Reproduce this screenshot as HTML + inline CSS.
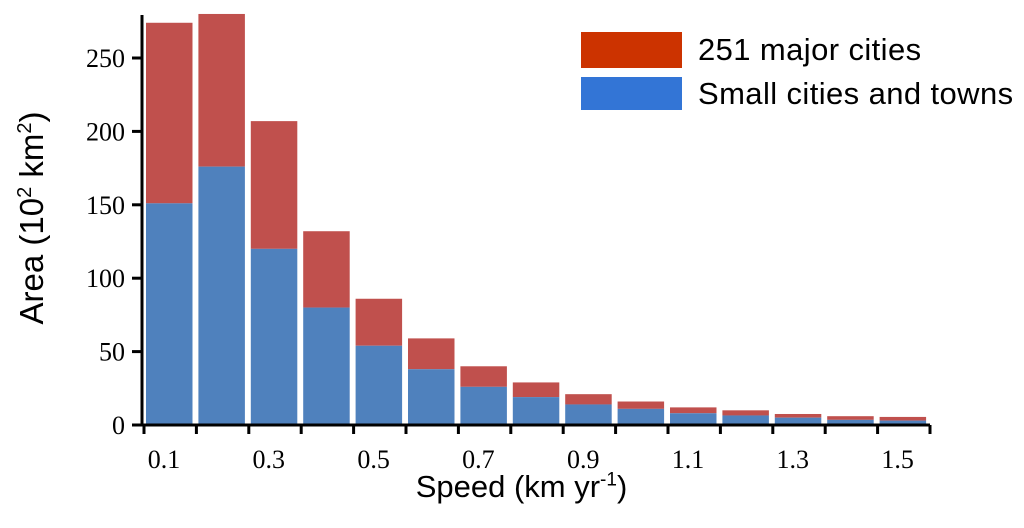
<!DOCTYPE html>
<html><head><meta charset="utf-8"><style>
body{margin:0;background:#fff;}
svg text{font-family:"Liberation Serif",serif;}
</style></head><body>
<svg id="c" width="1024" height="523">
</svg>
<script>
const categories=["0.1","0.2","0.3","0.4","0.5","0.6","0.7","0.8","0.9","1.0","1.1","1.2","1.3","1.4","1.5"];
const smallValues=[151,176,120,80,54,38,26,19,14,11,8,6.5,5,3.5,3];
const totalValues=[274,280,207,132,86,59,40,29,21,16,12,10,7.5,6,5.5];
const yTicks=[0,50,100,150,200,250];
const xLabels=["0.1","0.3","0.5","0.7","0.9","1.1","1.3","1.5"];
const NS="http://www.w3.org/2000/svg";
const svg=document.getElementById('c');
const x0=145,step=52.4,bw=46.5;
const y=v=>425-v*1.468;
const xb=i=>x0+i*step;
function mk(t,a,p){const e=document.createElementNS(NS,t);for(const k in a)e.setAttribute(k,a[k]);(p||svg).appendChild(e);return e;}
categories.forEach((c,i)=>{
 const r=mk('rect',{x:xb(i)+1,y:y(totalValues[i]),width:bw,height:y(smallValues[i])-y(totalValues[i]),fill:'#c0504d'});
 
 
 const b=mk('rect',{x:xb(i)+1,y:y(smallValues[i]),width:bw,height:425-y(smallValues[i]),fill:'#4f81bd'});
 
 
});
const ya=mk('line',{x1:142,y1:15,x2:142,y2:426,stroke:'#000','stroke-width':3});


yTicks.forEach(v=>{
 mk('line',{x1:132,y1:y(v),x2:142,y2:y(v),stroke:'#000','stroke-width':3});
 const t=mk('text',{x:125,y:y(v)+9,'text-anchor':'end','font-size':26});
 t.textContent=v;
 
 
});
const xa=mk('line',{x1:141,y1:425,x2:930,y2:425,stroke:'#000','stroke-width':3});


for(let i=0;i<=categories.length;i++){mk('line',{x1:xb(i)-1,y1:425,x2:xb(i)-1,y2:434,stroke:'#000','stroke-width':3});}
xLabels.forEach((l,k)=>{
 const t=mk('text',{x:xb(2*k)+19,y:468,'text-anchor':'middle','font-size':26});
 t.textContent=l;
 
 
});
</script>
<div style="position:absolute;left:0;top:469px;width:1024px;padding-left:19px;box-sizing:border-box;text-align:center;font:31px 'Liberation Sans',sans-serif;color:#000;">Speed (km yr<sup style="font-size:19px">-1</sup>)</div>
<div style="position:absolute;left:32px;top:218px;transform:translate(-50%,-50%) rotate(-90deg);white-space:nowrap;font:33px 'Liberation Sans',sans-serif;">Area (10<sup style="font-size:20px">2</sup> km<sup style="font-size:20px">2</sup>)</div>
<div style="position:absolute;left:581px;top:32px;font:31px 'Liberation Sans',sans-serif;letter-spacing:0.4px;white-space:nowrap;">
 <div style="display:flex;align-items:center;height:36px;margin-bottom:9px"><span style="display:inline-block;width:101px;height:36px;background:#cc3300;margin-right:16px"></span>251 major cities</div>
 <div style="display:flex;align-items:center;height:33px"><span style="display:inline-block;width:101px;height:33px;background:#3375d6;margin-right:16px"></span>Small cities and towns</div>
</div>
</body></html>
